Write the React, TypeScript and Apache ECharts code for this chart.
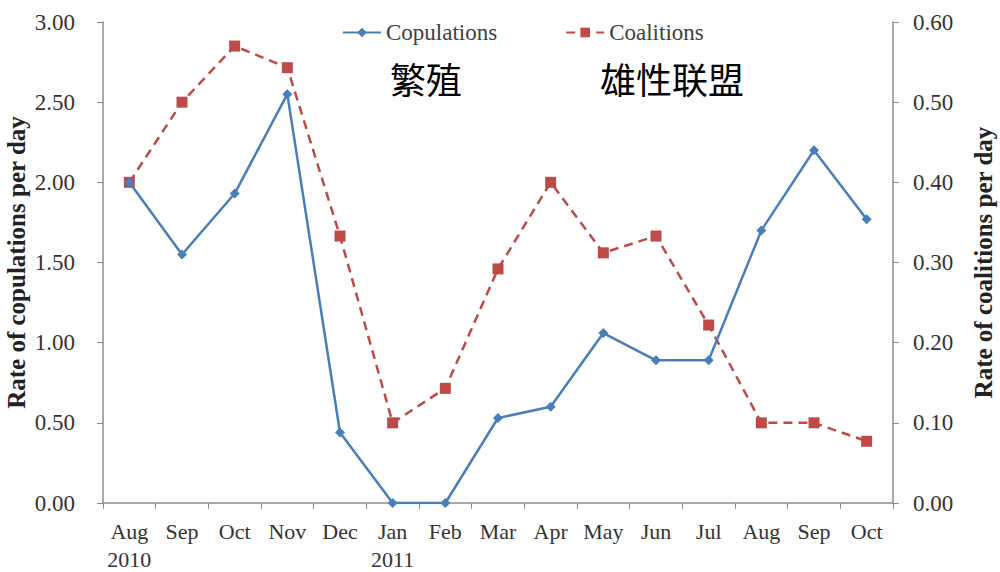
import React, { useEffect, useRef } from "react";
import * as echarts from "echarts";

const categories = ["Aug\n2010", "Sep", "Oct", "Nov", "Dec", "Jan\n2011", "Feb", "Mar", "Apr", "May", "Jun", "Jul", "Aug", "Sep", "Oct"];
const copulations = [2.0, 1.55, 1.93, 2.55, 0.44, 0.0, 0.0, 0.53, 0.6, 1.06, 0.89, 0.89, 1.7, 2.2, 1.77];
const coalitions = [0.4, 0.5, 0.57, 0.543, 0.333, 0.1, 0.143, 0.292, 0.4, 0.312, 0.333, 0.222, 0.1, 0.1, 0.077];
const leftName = "Rate of copulations per day";
const rightName = "Rate of coalitions per day";
const annotations = [
  { text: "繁殖", x: 390, y: 80 },
  { text: "雄性联盟", x: 600, y: 80 },
];

const SERIF = "'Liberation Serif', 'Times New Roman', serif";
const AXIS_COLOR = "#8c8c8c";
const BLUE = "#4a7ebb";
const RED = "#be4b48";

export default function App() {
  const ref = useRef<HTMLDivElement>(null);
  useEffect(() => {
    if (!ref.current) return;
    const chart = echarts.init(ref.current, null, { renderer: "svg" });
    chart.setOption({
      animation: false,
      backgroundColor: "#ffffff",
      textStyle: { fontFamily: SERIF },
      grid: { left: 103, right: 107, top: 22, bottom: 69, outerBoundsMode: "none", containLabel: false },
      legend: {
        top: 16,
        left: 337,
        itemWidth: 38,
        itemHeight: 12,
        itemGap: 68,
        textStyle: { fontFamily: SERIF, fontSize: 23, color: "#404040" },
        data: ["Copulations", "Coalitions"],
      },
      xAxis: {
        type: "category",
        data: categories,
        boundaryGap: true,
        axisLine: { lineStyle: { color: AXIS_COLOR, width: 1.5 } },
        axisTick: { show: true, length: 6, alignWithLabel: false, lineStyle: { color: AXIS_COLOR } },
        axisLabel: { color: "#333", fontSize: 22, fontFamily: SERIF, margin: 14, lineHeight: 28, interval: 0 },
        splitLine: { show: false },
      },
      yAxis: [
        {
          type: "value",
          min: 0,
          max: 3,
          interval: 0.5,
          name: leftName,
          nameLocation: "middle",
          nameRotate: 90,
          nameGap: 74,
          nameMoveOverlap: false,
          nameTextStyle: { fontFamily: SERIF, fontSize: 25, fontWeight: "bold", color: "#222" },
          axisLine: { show: true, lineStyle: { color: AXIS_COLOR, width: 1.5 } },
          axisTick: { show: true, length: 6, lineStyle: { color: AXIS_COLOR } },
          axisLabel: { color: "#333", fontSize: 23, fontFamily: SERIF, margin: 28, formatter: (v: number) => v.toFixed(2) },
          splitLine: { show: false },
        },
        {
          type: "value",
          min: 0,
          max: 0.6,
          interval: 0.1,
          position: "right",
          name: rightName,
          nameLocation: "middle",
          nameRotate: 90,
          nameGap: 78,
          nameMoveOverlap: false,
          nameTextStyle: { fontFamily: SERIF, fontSize: 25, fontWeight: "bold", color: "#222" },
          axisLine: { show: true, lineStyle: { color: AXIS_COLOR, width: 1.5 } },
          axisTick: { show: true, length: 6, lineStyle: { color: AXIS_COLOR } },
          axisLabel: { color: "#333", fontSize: 23, fontFamily: SERIF, margin: 20, formatter: (v: number) => v.toFixed(2) },
          splitLine: { show: false },
        },
      ],
      series: [
        {
          name: "Coalitions",
          type: "line",
          yAxisIndex: 1,
          data: coalitions,
          symbol: "rect",
          symbolSize: 11,
          itemStyle: { color: RED },
          lineStyle: { color: RED, width: 2.5, type: [9, 6] },
          z: 2,
        },
        {
          name: "Copulations",
          type: "line",
          yAxisIndex: 0,
          data: copulations,
          symbol: "diamond",
          symbolSize: 10,
          itemStyle: { color: BLUE },
          lineStyle: { color: BLUE, width: 2.5 },
          z: 3,
        },
      ],
      graphic: annotations.map((a) => ({
        type: "text",
        left: a.x,
        top: a.y - 20,
        style: {
          text: a.text,
          fontSize: 36,
          fontFamily: "'Noto Sans CJK SC', sans-serif",
          fill: "#000",
        },
      })),
    });
    return () => chart.dispose();
  }, []);
  return <div ref={ref} style={{ position: "absolute", left: 0, top: 0, width: 1000, height: 572 }} />;
}
